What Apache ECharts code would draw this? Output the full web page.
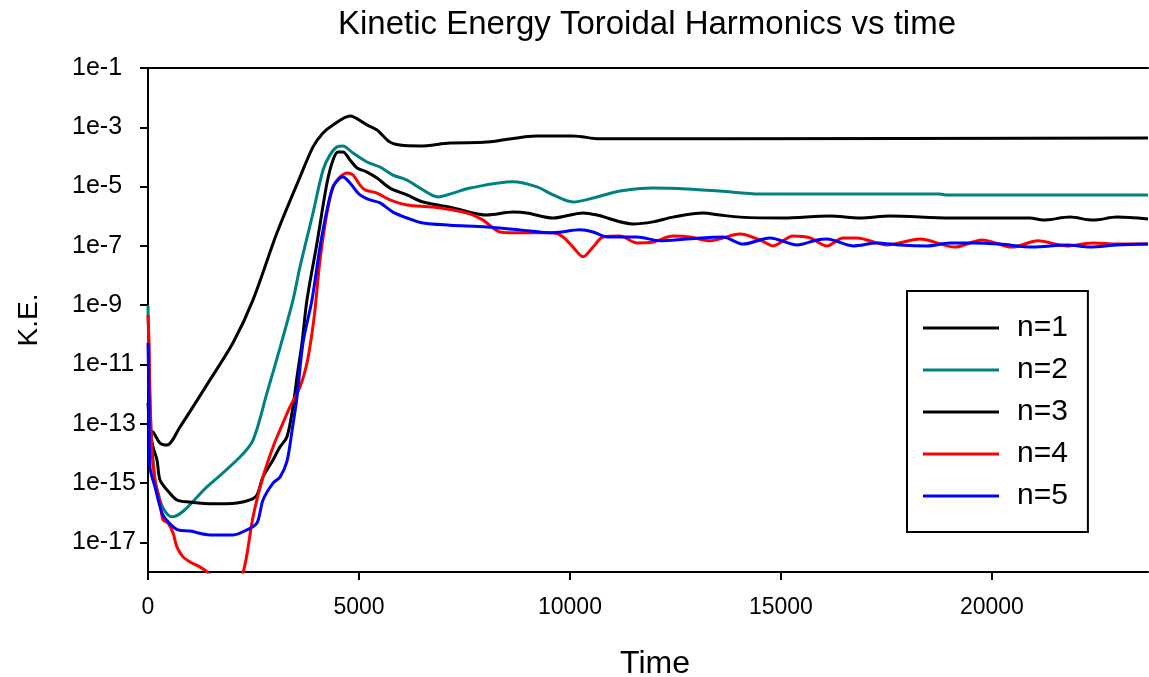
<!DOCTYPE html>
<html><head><meta charset="utf-8">
<script src="https://cdn.jsdelivr.net/npm/echarts@6/dist/echarts.min.js"></script>
<style>html,body{margin:0;padding:0;background:#fff}#c{width:1149px;height:677px}</style>
</head><body><div id="c"></div>
<script>
const FONT = '"Liberation Sans", Arial, sans-serif';
const titleText = 'Kinetic Energy Toroidal Harmonics vs time';
const xAxisName = 'Time';
const yAxisName = 'K.E.';
const xTicks = [0, 5000, 10000, 15000, 20000];
// y tick positions as powers of ten (labels 1e-17 ... 1e-1)
const yTickExps = [-17, -15, -13, -11, -9, -7, -5, -3, -1];
const seriesNames = ['n=1', 'n=2', 'n=3', 'n=4', 'n=5'];
const colors = ['#000000', '#008080', '#000000', '#ff0000', '#0000ff'];

// Each series: time values and log10(K.E.) values
const n1Time = [0,118,284,450,758,1469,2015,2489,3057,3602,3911,4148,4385,4787,5190,5427,5735,5972,6446,7157,8034,9219,10072,10712,13556,23700];
const n1LogKE = [-13.21,-13.28,-13.65,-13.72,-13.11,-11.52,-10.27,-8.82,-6.56,-4.68,-3.66,-3.19,-2.92,-2.62,-2.92,-3.09,-3.50,-3.60,-3.63,-3.53,-3.50,-3.29,-3.29,-3.39,-3.39,-3.36];

const n2Time = [0,71,166,237,356,569,1398,2180,2489,2820,3128,3437,3602,3911,4148,4313,4479,4622,4859,5190,5498,5807,6138,6446,6873,7229,7631,8651,9219,9599,10072,10641,11186,11969,12774,13556,14504,18770,18900,23700];
const n2LogKE = [-9.0,-13.21,-14.9,-15.33,-15.84,-16.14,-15.13,-14.12,-13.55,-11.96,-10.44,-8.82,-7.71,-5.89,-4.44,-3.93,-3.66,-3.63,-3.87,-4.17,-4.34,-4.61,-4.78,-5.05,-5.35,-5.22,-5.05,-4.84,-5.01,-5.28,-5.52,-5.35,-5.15,-5.05,-5.08,-5.15,-5.25,-5.25,-5.28,-5.28];

const n3Time = [0,47,118,213,284,450,687,995,1541,2109,2417,2583,2726,2963,3128,3294,3437,3531,3650,3768,4005,4242,4385,4503,4622,4787,4953,5190,5427,5735,6138,6518,7229,8034,8651,8982,9599,10310,10641,11495,11969,12443,13154,13556,14030,15050,16163,16874,17585,19007,20903,21212,21851,22397,22965,23700];
const n3LogKE = [-12.30,-13.21,-13.78,-14.22,-14.90,-15.23,-15.57,-15.64,-15.70,-15.67,-15.57,-15.40,-14.79,-14.22,-13.78,-13.44,-12.43,-11.42,-10.27,-8.82,-6.90,-4.88,-4.10,-3.83,-3.83,-4.10,-4.37,-4.51,-4.71,-5.05,-5.28,-5.52,-5.72,-5.96,-5.86,-5.89,-6.06,-5.89,-5.96,-6.26,-6.19,-6.03,-5.89,-5.96,-6.03,-6.06,-5.99,-6.06,-5.99,-6.06,-6.06,-6.13,-6.03,-6.13,-6.03,-6.09];

const n4Time = [0,24,47,95,166,284,356,474,593,687,830,995,1232,1422,1900,2252,2489,2726,2963,3128,3365,3602,3768,3887,3958,4076,4242,4385,4550,4716,4859,5024,5143,5427,5735,6138,6755,7560,7940,8342,8816,9599,9836,10072,10310,10547,10783,11186,11589,11969,12443,12845,13319,14030,14504,14813,15287,15689,16092,16472,16803,17514,18296,19126,19766,20477,21093,21780,22397,22965,23700];
const n4LogKE = [-9.33,-10.27,-12.20,-13.88,-14.90,-15.67,-16.24,-16.35,-16.68,-17.16,-17.49,-17.66,-17.83,-18.03,-19.0,-18.03,-16.14,-14.79,-13.78,-13.21,-12.43,-11.76,-10.95,-9.94,-9.16,-7.48,-5.89,-5.01,-4.68,-4.54,-4.61,-4.95,-5.11,-5.22,-5.45,-5.62,-5.69,-5.89,-6.13,-6.53,-6.56,-6.56,-6.70,-7.04,-7.37,-7.04,-6.70,-6.67,-6.90,-6.87,-6.67,-6.70,-6.83,-6.60,-6.80,-7.00,-6.67,-6.73,-7.00,-6.73,-6.73,-6.97,-6.77,-7.04,-6.80,-7.04,-6.83,-7.00,-6.90,-6.94,-6.94];

const n5Time = [0,24,47,166,332,474,711,995,1469,2015,2346,2583,2726,2963,3128,3294,3413,3531,3674,3887,4076,4242,4385,4550,4622,4787,5024,5261,5498,5807,6138,6518,7157,8034,8816,9599,10239,10547,10878,11589,12134,12774,13628,14101,14741,15381,15855,16092,16708,17277,17822,18462,19007,19553,20192,20975,21780,22325,22965,23700];
const n5LogKE = [-10.27,-12.20,-14.46,-15.13,-16.01,-16.31,-16.58,-16.62,-16.75,-16.75,-16.58,-16.35,-15.57,-15.00,-14.80,-14.26,-13.24,-12.10,-10.27,-8.82,-7.04,-5.79,-5.01,-4.71,-4.68,-4.88,-5.28,-5.45,-5.55,-5.86,-6.06,-6.23,-6.30,-6.36,-6.46,-6.56,-6.46,-6.53,-6.70,-6.70,-6.83,-6.77,-6.70,-6.94,-6.73,-6.97,-6.80,-6.77,-7.00,-6.90,-6.97,-7.00,-6.90,-6.90,-6.94,-7.04,-6.97,-7.04,-6.97,-6.94];

const allTimes = [n1Time, n2Time, n3Time, n4Time, n5Time];
const allLogKE = [n1LogKE, n2LogKE, n3LogKE, n4LogKE, n5LogKE];

function pairs(t, e) { return t.map((v, i) => [v, e[i]]); }

const chart = echarts.init(document.getElementById('c'), null, { renderer: 'canvas' });
const axisLineStyle = { color: '#000', width: 2 };
const option = {
  animation: false,
  backgroundColor: '#ffffff',
  title: {
    text: titleText, left: 642, top: 3, textAlign: 'center',
    textStyle: { fontFamily: FONT, fontSize: 33, fontWeight: 'normal', color: '#000' }
  },
  grid: { left: 148, right: 1, top: 68, bottom: 105, containLabel: false, outerBoundsMode: 'none' },
  xAxis: [{
    type: 'value', min: 0, max: 23700, position: 'bottom',
    axisLine: { show: true, onZero: false, lineStyle: axisLineStyle },
    axisTick: { show: true, customValues: xTicks, length: 8, lineStyle: axisLineStyle },
    axisLabel: { customValues: xTicks, formatter: v => String(v), margin: 24, fontSize: 23, color: '#000', fontFamily: FONT },
    splitLine: { show: false },
    name: xAxisName, nameLocation: 'middle', nameGap: 76,
    nameTextStyle: { fontSize: 32, color: '#000', fontFamily: FONT, padding: [0, 0, 0, 14] }
  }, {
    type: 'value', min: 0, max: 23700, position: 'top',
    axisLine: { show: true, onZero: false, lineStyle: axisLineStyle },
    axisTick: { show: false }, axisLabel: { show: false }, splitLine: { show: false }
  }],
  yAxis: {
    type: 'value', min: -18, max: -1,
    axisLine: { show: true, onZero: false, lineStyle: axisLineStyle },
    axisTick: { show: true, customValues: yTickExps, length: 8, lineStyle: axisLineStyle },
    axisLabel: {
      customValues: yTickExps, formatter: v => '1e' + v, align: 'left', margin: 76,
      fontSize: 25, color: '#000', fontFamily: FONT
    },
    splitLine: { show: false },
    name: yAxisName, nameLocation: 'middle', nameGap: 105,
    nameTextStyle: { fontSize: 28, color: '#000', fontFamily: FONT }
  },
  legend: {
    orient: 'vertical', left: 907, top: 291, padding: [22, 20, 21, 16],
    itemWidth: 76, itemHeight: 3, itemGap: 12, icon: 'rect',
    borderColor: '#000', borderWidth: 2, borderRadius: 0, backgroundColor: '#fff',
    selectedMode: false,
    textStyle: { fontSize: 30, lineHeight: 30, fontFamily: FONT, color: '#000', padding: [0, 0, 0, 13] },
    data: seriesNames
  },
  series: seriesNames.map((name, i) => ({
    name: name, type: 'line', symbol: 'none', showSymbol: false,
    smooth: 0.3, clip: true,
    lineStyle: { color: colors[i], width: 3 },
    itemStyle: { color: colors[i] },
    data: pairs(allTimes[i], allLogKE[i])
  }))
};
chart.setOption(option);
</script>
</body></html>
